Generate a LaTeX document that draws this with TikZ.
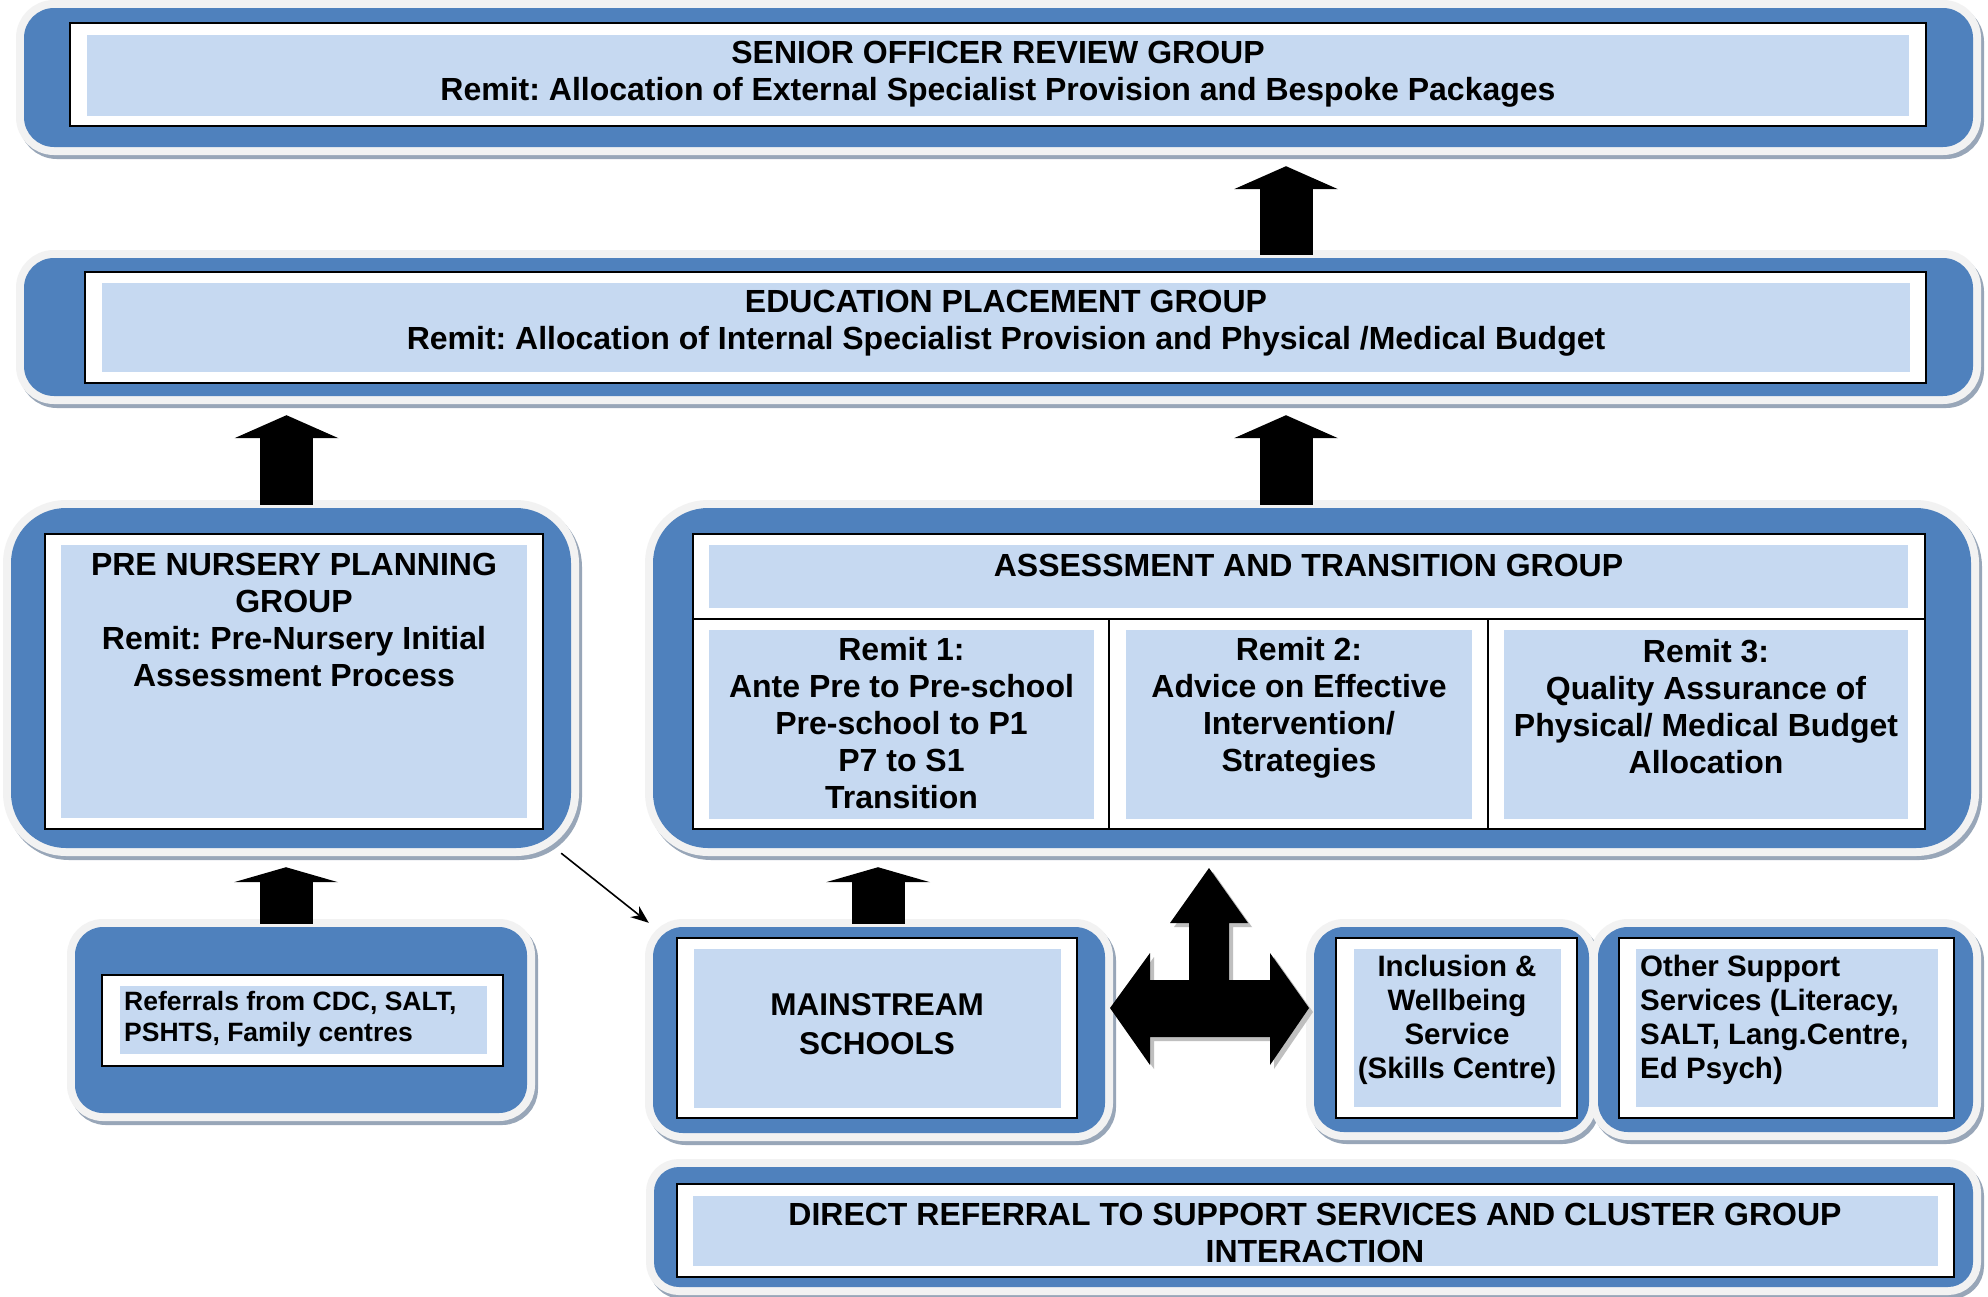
\documentclass[tikz,border=0pt]{standalone}
\usepackage{fontspec}
\setmainfont{Liberation Sans}
\usetikzlibrary{arrows.meta}
\frenchspacing

\definecolor{panelblue}{HTML}{4F81BD}
\definecolor{cardblue}{HTML}{C6D9F1}
\definecolor{glowgrey}{HTML}{F2F2F2}
\definecolor{rimgrey}{HTML}{98A6B8}
\definecolor{tshade}{HTML}{BFBFBF}

\begin{document}
\begin{tikzpicture}[x=1pt,y=-1pt,
  panel/.style={fill=panelblue,rounded corners=#1,inner sep=0pt,
    preaction={draw=rimgrey,line width=16pt,transform canvas={shift={(3pt,-4pt)}}},
    preaction={draw=glowgrey,line width=16pt}},
  sz/.style 2 args={minimum width=#1pt,minimum height=#2pt},
  frame/.style={draw=black,line width=1.8pt,fill=white,inner sep=0pt},
  card/.style={fill=cardblue,inner sep=0pt},
  txt/.style={inner sep=0pt,align=center,font=\bfseries\fontsize{32}{37}\selectfont},
  lift/.style={line width=53pt,-{Triangle[width=104pt,length=#1,line width=0pt]},
    shorten <=3pt,shorten >=19pt},
  feed/.style={line width=1.6pt,-{Stealth[length=18pt,width=14pt]}}]

  \path[use as bounding box,fill=white] (0,0) rectangle (1988,1296);

  % outer blue panels
  \node[panel=30pt,sz={1949}{139}] (sorg) at (998.5,77.5) {};
  \node[panel=30pt,sz={1949}{138}] (epg) at (998.5,327) {};
  \node[panel=55pt,sz={560}{340}] (pnpg) at (291,678) {};
  \node[panel=55pt,sz={1318}{340}] (atg) at (1312,678) {};
  \node[panel=28pt,sz={452}{186}] (refs) at (301,1020) {};
  \node[panel=30pt,sz={452}{206}] (mains) at (879,1030) {};
  \node[panel=30pt,sz={275}{205}] (iws) at (1451.5,1029.5) {};
  \node[panel=30pt,sz={375}{205}] (oss) at (1785.5,1029.5) {};
  \node[panel=25pt,sz={1319}{120}] (drsc) at (1313.5,1227) {};

  % white frames
  \node[frame,sz={1856}{103}] (sorgframe) at (998,74.5) {};
  \node[frame,sz={1841}{111}] (epgframe) at (1005.5,327.5) {};
  \node[frame,sz={498}{295}] (pnpgframe) at (294,681.5) {};
  \node[frame,sz={1232}{295}] (atgframe) at (1309,681.5) {};
  \node[frame,sz={401}{91}] (refsframe) at (302.5,1020.5) {};
  \node[frame,sz={400}{180}] (mainsframe) at (877,1028) {};
  \node[frame,sz={241}{180}] (iwsframe) at (1456.5,1028) {};
  \node[frame,sz={335}{180}] (ossframe) at (1786.5,1028) {};
  \node[frame,sz={1277}{93}] (drscframe) at (1315.5,1230.5) {};
  \draw[line width=1.8pt] (atgframe.west |- 0,619) -- (atgframe.east |- 0,619);
  \draw[line width=1.8pt] (1109,619) -- (1109,0 |- atgframe.south);
  \draw[line width=1.8pt] (1488,619) -- (1488,0 |- atgframe.south);

  % light blue cards
  \node[card,sz={1822}{81}] (sorgcard) at (998,75.5) {};
  \node[card,sz={1808}{89}] (epgcard) at (1006,327.5) {};
  \node[card,sz={466}{273}] (pnpgcard) at (294,681.5) {};
  \node[card,sz={1199}{63}] (atgcard) at (1308.5,576.5) {};
  \node[card,sz={385}{189}] (remit1) at (901.5,724.5) {};
  \node[card,sz={346}{189}] (remit2) at (1299,724.5) {};
  \node[card,sz={404}{189}] (remit3) at (1706,724.5) {};
  \node[card,sz={367}{68}] (refscard) at (303.5,1020) {};
  \node[card,sz={367}{159}] (mainscard) at (877.5,1028.5) {};
  \node[card,sz={207}{158}] (iwscard) at (1457.5,1028) {};
  \node[card,sz={302}{158}] (osscard) at (1787,1028) {};
  \node[card,sz={1245}{70}] (drsccard) at (1315.5,1231) {};

  % texts
  \node[txt] (sorgtext) at (998,74.5) {SENIOR OFFICER REVIEW GROUP\\
    Remit: Allocation of External Specialist Provision and Bespoke Packages};
  \node[txt] (epgtext) at (1006,323.5) {EDUCATION PLACEMENT GROUP\\
    Remit: Allocation of Internal Specialist Provision and Physical /Medical Budget};
  \node[txt] (pnpgtext) at (294,620) {PRE NURSERY PLANNING\\GROUP\\
    Remit: Pre-Nursery Initial\\Assessment Process};
  \node[txt] (atgtext) at (1308.5,565.5) {ASSESSMENT AND TRANSITION GROUP};
  \node[txt] (remit1text) at (901.5,723) {Remit 1:\\Ante Pre to Pre-school\\
    Pre-school to P1\\P7 to S1\\Transition};
  \node[txt] (remit2text) at (1299,708) {Remit 2:\\Advice on Effective\\
    Intervention/\\Strategies};
  \node[txt] (remit3text) at (1706,707) {Remit 3:\\Quality Assurance of\\
    Physical/ Medical Budget\\Allocation};
  \node[txt,align=left,anchor=west,font=\bfseries\fontsize{26.5}{31}\selectfont]
    (refstext) at (124,1019.5) {Referrals from CDC, SALT,\\PSHTS, Family centres};
  \node[txt,font=\bfseries\fontsize{31.5}{39}\selectfont]
    (mainstext) at (877,1024) {MAINSTREAM\\SCHOOLS};
  \node[txt,font=\bfseries\fontsize{29.5}{34}\selectfont]
    (iwstext) at (1457,1020) {Inclusion \&\\Wellbeing\\Service\\(Skills Centre)};
  \node[txt,align=left,anchor=west,font=\bfseries\fontsize{29.5}{34}\selectfont]
    (osstext) at (1640,1020) {Other Support\\Services (Literacy,\\SALT, Lang.Centre,\\Ed Psych)};
  \node[txt]
    (drsctext) at (1315,1233) {DIRECT REFERRAL TO SUPPORT SERVICES AND CLUSTER GROUP\\INTERACTION};

  % block arrows up the hierarchy
  \draw[lift=23pt] (1286,0 |- epg.north) -- (1286,0 |- sorg.south);
  \draw[lift=23pt] (1286,0 |- atg.north) -- (1286,0 |- epg.south);
  \draw[lift=23pt] (286.5,0 |- pnpg.north) -- (286.5,0 |- epg.south);
  \draw[lift=15pt] (286,0 |- refs.north) -- (286,0 |- pnpg.south);
  \draw[lift=15pt] (878,0 |- mains.north) -- (878,0 |- atg.south);
  \draw[feed] ([shift={(-10pt,-5pt)}]pnpg.south east) -- ([shift={(-4pt,4pt)}]mains.north west);

  % three-way arrow between schools and services
  \foreach \s/\c in {4/tshade,0/black}
    \fill[\c,shift={(\s,\s)}] (1209,868) -- (1248,923) -- (1229,923) -- (1229,980)
      -- (1270,980) -- (1270,953) -- (1309,1008) -- (1270,1065) -- (1270,1037)
      -- (1150,1037) -- (1150,1065) -- (1110,1008) -- (1150,953) -- (1150,980)
      -- (1189,980) -- (1189,923) -- (1170,923) -- cycle;

\end{tikzpicture}
\end{document}
